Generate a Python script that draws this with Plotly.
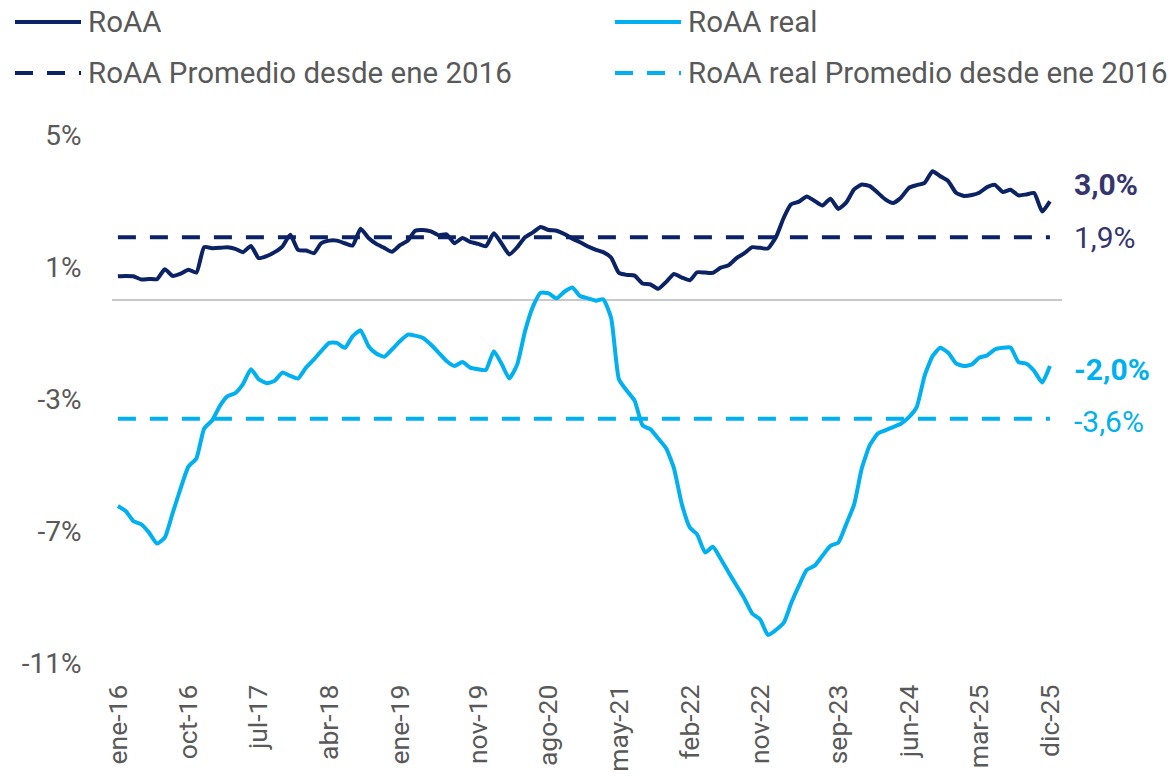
import pandas as pd
import plotly.graph_objects as go

# ---------------- data ----------------
dates = pd.date_range("2016-01-01", periods=120, freq="MS")

roaa = [0.72, 0.73, 0.72, 0.62, 0.64, 0.63, 0.93, 0.73, 0.80, 0.92,
        0.83, 1.60, 1.57, 1.58, 1.60, 1.55, 1.45, 1.64, 1.27, 1.33,
        1.45, 1.62, 1.98, 1.52, 1.50, 1.42, 1.72, 1.80, 1.80, 1.72,
        1.65, 2.16, 1.88, 1.70, 1.58, 1.46, 1.66, 1.80, 2.10, 2.12,
        2.08, 1.96, 1.99, 1.72, 1.88, 1.76, 1.70, 1.63, 2.02, 1.70,
        1.38, 1.60, 1.90, 2.05, 2.21, 2.12, 2.10, 2.00, 1.86, 1.75,
        1.62, 1.52, 1.45, 1.28, 0.82, 0.76, 0.74, 0.50, 0.47, 0.34,
        0.55, 0.79, 0.68, 0.60, 0.84, 0.83, 0.82, 0.98, 1.05, 1.27,
        1.42, 1.60, 1.58, 1.56, 1.90, 2.50, 2.90, 2.98, 3.14, 3.00,
        2.86, 3.07, 2.76, 2.95, 3.35, 3.50, 3.45, 3.25, 3.05, 2.94,
        3.10, 3.40, 3.48, 3.55, 3.90, 3.75, 3.60, 3.25, 3.15, 3.18,
        3.25, 3.42, 3.49, 3.27, 3.34, 3.17, 3.20, 3.24, 2.68, 2.99]

roaa_real = [-6.24, -6.40, -6.70, -6.80, -7.05, -7.38, -7.20, -6.45, -5.70, -5.05,
             -4.80, -3.90, -3.65, -3.20, -2.92, -2.82, -2.55, -2.10, -2.40, -2.52,
             -2.45, -2.20, -2.30, -2.38, -2.05, -1.80, -1.55, -1.30, -1.30, -1.45,
             -1.10, -0.92, -1.40, -1.62, -1.72, -1.50, -1.25, -1.05, -1.08, -1.15,
             -1.35, -1.60, -1.85, -2.00, -1.88, -2.05, -2.10, -2.12, -1.55, -1.95,
             -2.38, -1.95, -0.95, -0.20, 0.22, 0.20, 0.05, 0.25, 0.38, 0.12,
             0.05, -0.02, 0.02, -0.55, -2.40, -2.75, -3.05, -3.80, -3.92, -4.20,
             -4.50, -5.10, -6.20, -6.90, -7.10, -7.65, -7.48, -7.85, -8.25, -8.65,
             -9.05, -9.50, -9.68, -10.15, -10.00, -9.78, -9.20, -8.65, -8.18, -8.05,
             -7.75, -7.45, -7.35, -6.80, -6.20, -5.10, -4.40, -4.05, -3.95, -3.85,
             -3.75, -3.55, -3.25, -2.30, -1.70, -1.45, -1.60, -1.92, -2.00, -1.95,
             -1.75, -1.68, -1.50, -1.45, -1.44, -1.88, -1.93, -2.15, -2.50, -2.00]

avg_roaa = 1.9
avg_real = -3.6

tick_dates = ["2016-01-01", "2016-10-01", "2017-07-01", "2018-04-01", "2019-01-01",
              "2019-11-01", "2020-08-01", "2021-05-01", "2022-02-01", "2022-11-01",
              "2023-09-01", "2024-06-01", "2025-03-01", "2025-12-01"]
tick_labels = ["ene-16", "oct-16", "jul-17", "abr-18", "ene-19", "nov-19", "ago-20",
               "may-21", "feb-22", "nov-22", "sep-23", "jun-24", "mar-25", "dic-25"]

y_ticks = [5, 1, -3, -7, -11]
y_tick_labels = ["5%", "1%", "-3%", "-7%", "-11%"]

names = ["RoAA", "RoAA real", "RoAA Promedio desde ene 2016",
         "RoAA real Promedio desde ene 2016"]
end_labels = ["3,0%", "1,9%", "-2,0%", "-3,6%"]

# ---------------- style ----------------
NAVY = "#0b2265"
LBLUE = "#00b0f0"
LABEL_NAVY = "#35356e"
GRAY = "#595959"
FONT = "Roboto"
DASH = "18px,14px"

W, H = 1173, 776
L, R, T, B = 112, 111, 135, 113
PW, PH = W - L - R, H - T - B


def px_x(p):
    return (p - L) / PW


def px_y(p):
    return (H - B - p) / PH


fig = go.Figure()
fig.add_trace(go.Scatter(x=dates, y=roaa, mode="lines", name=names[0],
                         line=dict(color=NAVY, width=4, shape="spline", smoothing=0.5)))
fig.add_trace(go.Scatter(x=dates, y=roaa_real, mode="lines", name=names[1],
                         line=dict(color=LBLUE, width=4, shape="spline", smoothing=0.5)))
fig.add_trace(go.Scatter(x=[dates[0], dates[-1]], y=[avg_roaa, avg_roaa], mode="lines",
                         name=names[2], line=dict(color=NAVY, width=4, dash=DASH)))
fig.add_trace(go.Scatter(x=[dates[0], dates[-1]], y=[avg_real, avg_real], mode="lines",
                         name=names[3], line=dict(color=LBLUE, width=4, dash=DASH)))

# manual legend (two columns)
legend_items = [
    (names[0], NAVY, "solid", 15, 22),
    (names[1], LBLUE, "solid", 615, 22),
    (names[2], NAVY, DASH, 15, 73),
    (names[3], LBLUE, DASH, 615, 73),
]
shapes = []
annotations = []
for name, col, dash, x0, yy in legend_items:
    shapes.append(dict(type="line", xref="paper", yref="paper",
                       x0=px_x(x0), x1=px_x(x0 + 66), y0=px_y(yy), y1=px_y(yy),
                       line=dict(color=col, width=4, dash=dash)))
    annotations.append(dict(xref="paper", yref="paper", x=px_x(x0 + 71), y=px_y(yy),
                            xanchor="left", yanchor="middle", text=name, showarrow=False,
                            font=dict(family=FONT, size=29.5, color=GRAY)))

# end labels
end_specs = [
    (end_labels[0], 184, LABEL_NAVY, True),
    (end_labels[1], 237, LABEL_NAVY, False),
    (end_labels[2], 369, LBLUE, True),
    (end_labels[3], 421, LBLUE, False),
]
for txt, yy, col, bold in end_specs:
    annotations.append(dict(xref="paper", yref="paper", x=px_x(1072), y=px_y(yy),
                            xanchor="left", yanchor="middle",
                            text=f"<b>{txt}</b>" if bold else txt, showarrow=False,
                            font=dict(family=FONT, size=30, color=col)))

fig.update_layout(
    width=W, height=H,
    margin=dict(l=L, r=R, t=T, b=B, autoexpand=False),
    paper_bgcolor="white", plot_bgcolor="white",
    showlegend=False,
    shapes=shapes, annotations=annotations,
    font=dict(family=FONT, color=GRAY),
)
fig.update_xaxes(
    type="date", automargin=False,
    range=["2015-12-09", "2026-01-17"],
    tickvals=tick_dates, ticktext=tick_labels, tickangle=-90,
    tickfont=dict(family=FONT, size=26.5, color=GRAY),
    showgrid=False, zeroline=False, showline=False,
    ticks="outside", ticklen=10, tickcolor="rgba(0,0,0,0)",
)
fig.update_yaxes(
    range=[-11, 5], automargin=False,
    tickvals=y_ticks, ticktext=y_tick_labels,
    tickfont=dict(family=FONT, size=28, color=GRAY),
    showgrid=False, showline=False,
    zeroline=True, zerolinecolor="#c8c8c8", zerolinewidth=2,
    ticks="outside", ticklen=24, tickcolor="rgba(0,0,0,0)",
)

fig.write_html("out.html", config={"displayModeBar": False},
               post_script="document.body.style.margin='0px';document.body.style.overflow='hidden';")
